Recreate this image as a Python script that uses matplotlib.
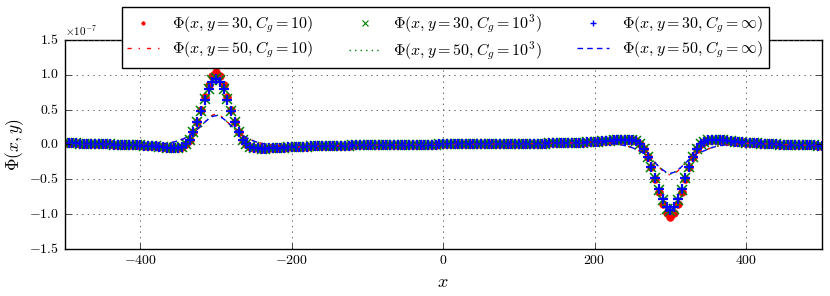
import numpy as np
import matplotlib.pyplot as plt
from matplotlib.lines import Line2D
from matplotlib.ticker import ScalarFormatter

plt.style.use('classic')
plt.rcParams['font.family'] = 'serif'
plt.rcParams['font.serif'] = ['cmr10']
plt.rcParams['mathtext.fontset'] = 'cm'
plt.rcParams['axes.formatter.use_mathtext'] = True

# sample grid (x) and values of Phi in units of 1e-7
x = np.arange(-500, 505, 5)
scale = 1e-7

# y = 30, C_g = inf
phi30_inf = [
    0.018, 0.017, 0.015, 0.014, 0.012, 0.011, 0.009, 0.008, 0.006, 0.005,
    0.003, 0.002, 0.000, -0.001, -0.003, -0.005, -0.006, -0.008, -0.010, -0.012,
    -0.015, -0.018, -0.021, -0.025, -0.029, -0.034, -0.039, -0.044,
    -0.049, -0.052, -0.050, -0.035, 0.000, 0.07, 0.18, 0.32, 0.48, 0.64,
    0.79, 0.90, 0.94, 0.90, 0.79, 0.64, 0.48, 0.32, 0.18, 0.07,
    0.000, -0.035, -0.052, -0.058, -0.060, -0.059, -0.057,
    -0.054, -0.051, -0.048, -0.045, -0.042, -0.039, -0.037, -0.035, -0.033, -0.031,
    -0.029, -0.028, -0.026, -0.025, -0.023, -0.022, -0.021, -0.019, -0.018, -0.017,
    -0.016, -0.015, -0.014, -0.013, -0.012, -0.011, -0.010, -0.010, -0.009, -0.008,
    -0.008, -0.007, -0.006, -0.006, -0.005, -0.004, -0.004, -0.003, -0.003, -0.002,
    -0.002, -0.001, -0.001, -0.001, 0.000, 0.000,
    0.000, 0.000, 0.001, 0.001, 0.001, 0.002, 0.002, 0.002, 0.003, 0.003,
    0.004, 0.004, 0.005, 0.005, 0.006, 0.006, 0.007, 0.007, 0.007,
    0.008, 0.008, 0.009, 0.010, 0.010, 0.011, 0.012, 0.013, 0.014, 0.015,
    0.016, 0.017, 0.018, 0.020, 0.021, 0.023, 0.025, 0.027, 0.030, 0.033,
    0.036, 0.040, 0.044, 0.049, 0.054, 0.059, 0.064, 0.068, 0.070, 0.069,
    0.062, 0.045, 0.000,
    -0.07, -0.18, -0.32, -0.48, -0.64, -0.79, -0.90, -0.94, -0.90, -0.79,
    -0.64, -0.48, -0.32, -0.18, -0.07, 0.000,
    0.040, 0.058, 0.064, 0.065, 0.062, 0.057, 0.051, 0.045, 0.039, 0.034,
    0.029, 0.025, 0.021, 0.017, 0.014, 0.011, 0.008, 0.005, 0.003, 0.001,
    -0.001, -0.003, -0.005, -0.006, -0.008, -0.009, -0.011, -0.012, -0.014, -0.015,
    -0.017, -0.018,
]

# y = 30: other C_g differ only around the peak / trough
peak30_x = [-320, -315, -310, -305, -300, -295, -290, -285, -280,
            280, 285, 290, 295, 300, 305, 310, 315, 320]
peak30_cg10 = [0.50, 0.68, 0.85, 0.98, 1.04, 0.98, 0.85, 0.68, 0.50,
               -0.50, -0.68, -0.85, -0.98, -1.04, -0.98, -0.85, -0.68, -0.50]
peak30_cg1e3 = [0.48, 0.65, 0.80, 0.92, 0.96, 0.92, 0.80, 0.65, 0.48,
                -0.48, -0.65, -0.80, -0.92, -0.96, -0.92, -0.80, -0.65, -0.48]

# y = 50, C_g = inf (same as y = 30 outside these windows)
win50_left_x = np.arange(-400, -195, 5)
phi50_left = [
    -0.013, -0.012, -0.010, -0.007, -0.003, 0.002, 0.008, 0.016, 0.026, 0.038,
    0.053, 0.072, 0.098, 0.13, 0.17, 0.215, 0.265, 0.32, 0.365, 0.40,
    0.415, 0.40, 0.365, 0.32, 0.265, 0.215, 0.17, 0.13, 0.098, 0.07,
    0.048, 0.030, 0.016, 0.005, -0.005, -0.013, -0.020, -0.026, -0.031, -0.034,
    -0.037,
]
win50_right_x = np.arange(200, 405, 5)
phi50_right = [
    0.037, 0.034, 0.031, 0.026, 0.020, 0.013, 0.005, -0.005, -0.016, -0.030,
    -0.048, -0.07, -0.098, -0.13, -0.17, -0.215, -0.265, -0.32, -0.365, -0.40,
    -0.415, -0.40, -0.365, -0.32, -0.265, -0.215, -0.17, -0.13, -0.11, -0.09,
    -0.065, -0.045, -0.030, -0.018, -0.009, -0.003, 0.002, 0.006, 0.009, 0.011,
    0.013,
]
peak50_x = [-310, -305, -300, -295, -290, 290, 295, 300, 305, 310]
peak50_cg10 = [0.38, 0.42, 0.44, 0.42, 0.38, -0.38, -0.42, -0.44, -0.42, -0.38]
peak50_cg1e3 = [0.37, 0.41, 0.425, 0.41, 0.37, -0.37, -0.41, -0.425, -0.41, -0.37]


def patched(base, xs, vals):
    out = np.array(base, dtype=float)
    for xi, v in zip(xs, vals):
        out[np.where(x == xi)[0][0]] = v
    return out


phi50_inf = patched(patched(phi30_inf, win50_left_x, phi50_left), win50_right_x, phi50_right)
series30 = {'10': patched(phi30_inf, peak30_x, peak30_cg10),
            '1e3': patched(phi30_inf, peak30_x, peak30_cg1e3),
            'inf': np.array(phi30_inf)}
series50 = {'10': patched(phi50_inf, peak50_x, peak50_cg10),
            '1e3': patched(phi50_inf, peak50_x, peak50_cg1e3),
            'inf': phi50_inf}

cg_tex = {'10': '10', '1e3': '10^3', 'inf': '\\infty'}
fig = plt.figure(figsize=(8.3, 2.96), facecolor='white')
ax = fig.add_axes([0.078, 0.159, 0.912, 0.706])

ax.plot(x, series30['10'] * scale, 'r.', ms=11, mec='r')
ax.plot(x, series30['1e3'] * scale, 'gx', ms=6.5, mec='g', mew=1.1)
ax.plot(x, series30['inf'] * scale, 'b+', ms=6.5, mec='b', mew=1.6)
h = {}
h['r50'], = ax.plot(x, series50['10'] * scale, 'r-.', lw=1)
h['g50'], = ax.plot(x, series50['1e3'] * scale, 'g:', lw=1)
h['b50'], = ax.plot(x, series50['inf'] * scale, 'b--', lw=1, dashes=(4, 3))

# thinner marker copies for the legend
h['r30'] = Line2D([], [], color='r', marker='.', ls='none', ms=5, mec='r')
h['g30'] = Line2D([], [], color='g', marker='x', ls='none', ms=4, mec='g', mew=0.8)
h['b30'] = Line2D([], [], color='b', marker='+', ls='none', ms=5, mec='b', mew=1.0)

labels = {}
for key, c in zip(['10', '1e3', 'inf'], 'rgb'):
    labels[c + '30'] = r'$\Phi(x,y=30,C_g=%s)$' % cg_tex[key]
    labels[c + '50'] = r'$\Phi(x,y=50,C_g=%s)$' % cg_tex[key]

order = ['r30', 'r50', 'g30', 'g50', 'b30', 'b50']
ax.legend([h[k] for k in order], [labels[k] for k in order], ncol=3,
          loc='upper center', bbox_to_anchor=(0.503, 1.158), numpoints=1,
          fontsize=11.5, frameon=True, fancybox=False,
          borderaxespad=0., columnspacing=2.2, handletextpad=0.8,
          labelspacing=0.25, borderpad=0.35)

ax.set_xlim(-500, 500)
ax.set_ylim(-1.5e-7, 1.5e-7)
ax.set_xticks([-400, -200, 0, 200, 400])
fmt = ScalarFormatter(useMathText=True)
fmt.set_powerlimits((-3, 3))
ax.yaxis.set_major_formatter(fmt)
ax.yaxis.get_offset_text().set_fontsize(8)
ax.tick_params(labelsize=10)
ax.grid(True, color='0.3', lw=0.6)
ax.set_xlabel('$x$', fontsize=13)
ax.set_ylabel(r'$\Phi(x,y)$', fontsize=12.5, labelpad=2)

fig.savefig('out.png', dpi=100, facecolor='white')
